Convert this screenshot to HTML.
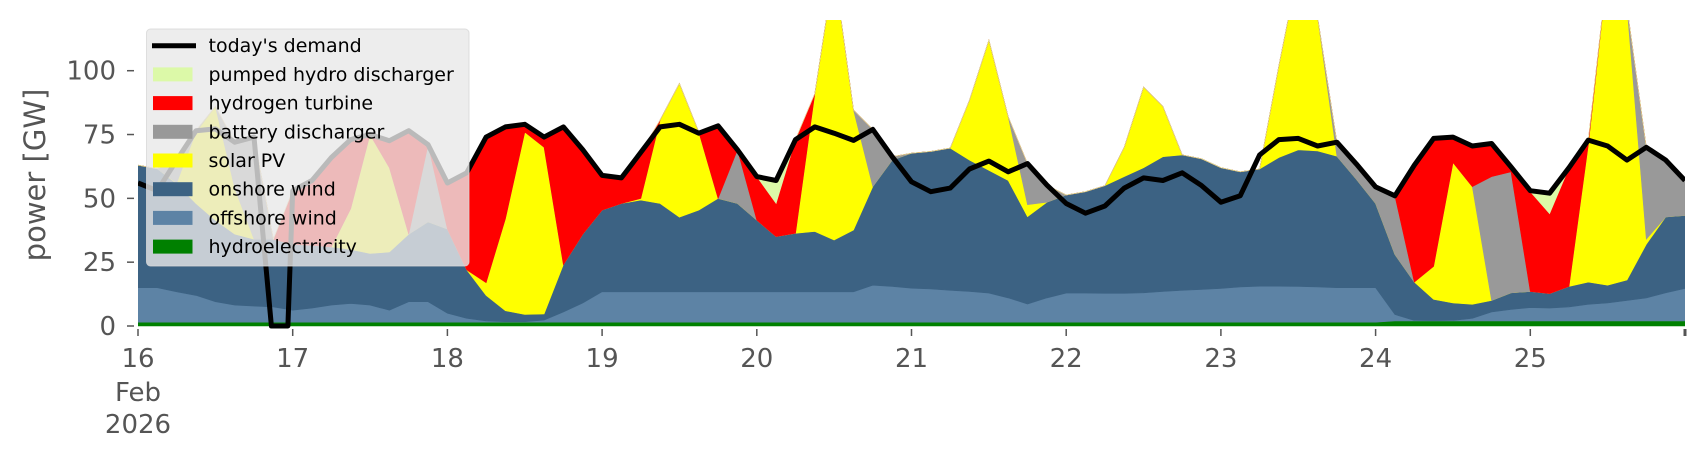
<!DOCTYPE html>
<html><head><meta charset="utf-8"><style>
html,body{margin:0;padding:0;background:#fff;}
svg{display:block;font-family:"DejaVu Sans","Liberation Sans",sans-serif;}
</style></head><body>
<svg id="chart" width="1706" height="460" viewBox="0 0 1706 460" xmlns="http://www.w3.org/2000/svg">
<defs><clipPath id="plotclip"><rect x="138" y="20" width="1547" height="320"/></clipPath></defs>
<g id="areas" clip-path="url(#plotclip)"></g>
<g id="demand" clip-path="url(#plotclip)"></g>
<g id="yaxis"></g>
<g id="xaxis"></g>
<text transform="translate(45,175) rotate(-90)" text-anchor="middle" font-size="29" fill="#555">power [GW]</text>
<g id="legend"></g>
</svg>
<script>
// 3-hourly samples, 16 Feb 00:00 .. 26 Feb 00:00 (81 points), GW
const days = ["16","17","18","19","20","21","22","23","24","25",""];
const yTicks = [0,25,50,75,100];
const hydro = [1.5,1.5,1.5,1.5,1.5,1.5,1.5,1.5, 1.5,1.5,1.5,1.5,1.5,1.5,1.5,1.5, 1.5,1.5,1.5,1.5,1.5,1.5,1.5,1.5, 1.5,1.5,1.5,1.5,1.5,1.5,1.5,1.5, 1.5,1.5,1.5,1.5,1.5,1.5,1.5,1.5, 1.5,1.5,1.5,1.5,1.5,1.5,1.5,1.5, 1.5,1.5,1.5,1.5,1.5,1.5,1.5,1.5, 1.5,1.5,1.5,1.5,1.5,1.5,1.5,1.5, 1.5,2,2,2,2,2,2,2, 2,2,2,2,2,2,2,2, 2];
const offshore = [13.5,13.5,11.9,10.5,8,6.7,6.3,6, 4.7,5.5,6.7,7.3,6.7,4.7,8,8, 3.5,1.5,0.5,0.2,0.2,0.8,4,7.5, 11.9,11.9,11.9,11.9,11.9,11.9,11.9,11.9, 11.9,11.9,11.9,11.9,11.9,11.9,14.5,14, 13.3,13,12.5,12,11.4,9.5,7.1,9.5, 11.4,11.4,11.3,11.3,11.5,12,12.5,12.8, 13.2,13.8,14.1,14.1,14,13.8,13.5,13.5, 13.5,2.5,0.2,0.1,0.2,1,3.5,4.5, 5.2,5,5.5,6.5,7,8,9,11, 12.7];
const onshore = [48,46.6,42.3,36,31.9,27.8,26.2,26.5, 25.8,24.6,22.8,21.2,20.2,22.8,26.5,31.3, 33,19,10,4.3,2.8,2.4,18.5,27, 32,34.6,35.9,34.6,29.2,32,36.6,34.6, 28.1,21.6,22.9,23.6,20.3,24.2,38.6,49.5, 52.9,53.9,55.7,51.5,48.1,46,34.2,37.5, 38.4,39.7,42.2,45.7,49,52.8,53,51.2, 47.3,45.1,45.9,50.4,53.5,53.3,51.5,42.5, 33,23.5,15,8.3,6.8,5.5,4.5,6.5, 6.3,5.7,8,8.7,7,8,21,29.7, 28.6];
const solar = [0,0,0.3,28,44.6,18,0,0, 0,0,0,16,46.6,33,0,0, 0,0,5,36,71.5,65.3,0,0, 0,0,0.7,32.7,52.4,30.6,0,0, 0,0,0,54,106.3,47,0,0, 0,0,0,23.5,51,25,4.7,0, 0,0,0,11.5,31.6,19.7,0,0, 0,0,0,36,71,52.4,0,0, 0,0,0,13,55,46.1,0,0, 0,0,0,53.8,124,107,2,0, 0];
const battery = [0,0,9,0.5,0,18,40,0, 0,0,0,0,0,0,0,30.2, 0,0,0,0,0,0,0,0, 0,0,0,0,0,0,0,21, 0,0,0,0,0,0,22.4,1.3, 0,0,0,0,0,0,16.1,6.7, 0,0,0,0,0,0,0,0, 0,0,0,0,0,0,5.5,6, 7,23,0,0,0,0,48.5,47.4, 0,0,0,0,0,0,36,22.3, 13.7];
const hydrogen = [0,0,0,0,0,0,0,0, 21,25.4,35,27,0,10.6,40.5,0, 18,38,57,36,3,4,54,33, 13.6,10,18,0,0,0,28.4,0, 17,13,36.7,0,0,0,0,0, 0,0,0,0,0,0,0,0, 0,0,0,0,0,0,0,0, 0,0,0,0,0,0,0,0, 0,0,46,50.5,10.2,15.9,13,1.9, 39.1,31.3,46.5,1.8,0,0,0,0, 0];
const pumped = [0,0,0,0,0,0,0,0, 0,0,0,0,0,0,0,0, 0,0,0,0,0,0,0,0, 0,0,0,0,0,0,0,0, 0,9,0,0,0,0,0,0, 0,0,0,0,0,0,0,0, 0,0,0,0,0,0,0,0, 0,0,0,0,0,0,0,0, 0,0,0,0,0,0,0,0, 0.4,8,0,0,0,0,0,0, 0];
const demand = [56,53,65,76.5,77.2,72,74,0, 53,57,66,73,75,72.6,76.5,71, 56,60,74,78,79,74,78,69, 59,58,68,78,79,75.5,78.4,69, 58.5,57,73,78,75.5,72.7,77,66.3, 56.5,52.6,54,61.5,64.6,60.4,63.6,55.2, 48,44.2,47,54,58,57,60,55, 48.5,51,67,73,73.5,70.5,72,63.5, 54.5,51,63,73.5,74,70.5,71.5,62.3, 53,52,62,72.8,70.5,65,70,65, 57];
// demand gap (zero readings) around 16 Feb 21:00-23:00
const demandGapStart = 6.9;
const demandGapEnd = 7.75;

const NS='http://www.w3.org/2000/svg';
const X0=138, X1=1685, Y0=326, PXG=2.553;
const N=demand.length;
function xs(i){return X0+(i/(N-1))*(X1-X0);}
function ys(v){return Y0-v*PXG;}
function mk(tag,attrs,parent){const e=document.createElementNS(NS,tag);for(const k in attrs)e.setAttribute(k,attrs[k]);parent.appendChild(e);return e;}

const series=[
 {name:'hydroelectricity',vals:hydro,color:'#008000',id:'area-hydroelectricity'},
 {name:'offshore wind',vals:offshore,color:'#5d83a5',id:'area-offshore-wind'},
 {name:'onshore wind',vals:onshore,color:'#3c6283',id:'area-onshore-wind'},
 {name:'solar PV',vals:solar,color:'#ffff00',id:'area-solar-pv'},
 {name:'battery discharger',vals:battery,color:'#999999',id:'area-battery-discharger'},
 {name:'hydrogen turbine',vals:hydrogen,color:'#ff0000',id:'area-hydrogen-turbine'},
 {name:'pumped hydro discharger',vals:pumped,color:'#dcf9a8',id:'area-pumped-hydro'}
];
const areas=document.getElementById('areas');
let base=new Array(N).fill(0);
series.forEach(s=>{
  const top=base.map((b,i)=>b+s.vals[i]);
  let d='M'+xs(0)+','+ys(top[0]);
  for(let i=1;i<N;i++) d+='L'+xs(i).toFixed(1)+','+ys(top[i]).toFixed(1);
  for(let i=N-1;i>=0;i--) d+='L'+xs(i).toFixed(1)+','+ys(base[i]).toFixed(1);
  d+='Z';
  const p=mk('path',{d:d,fill:s.color,stroke:s.color,'stroke-width':'0.6'},areas);
  
  
  base=top;
});
// demand line
const dg=document.getElementById('demand');
let dd='';
for(let i=0;i<N;i++){
  if(i===7){
    dd+='L'+xs(demandGapStart).toFixed(1)+','+ys(0).toFixed(1)+'L'+xs(demandGapEnd).toFixed(1)+','+ys(0).toFixed(1);
    continue;
  }
  dd+=(i?'L':'M')+xs(i).toFixed(1)+','+ys(demand[i]).toFixed(1);
}
const dl=mk('path',{d:dd,fill:'none',stroke:'#000','stroke-width':'5','stroke-linejoin':'round'},dg);



// y axis
const ya=document.getElementById('yaxis');
yTicks.forEach(v=>{
  const y=ys(v);
  const t=mk('line',{x1:127,x2:134,y1:y,y2:y,stroke:'#555','stroke-width':'1.5'},ya);
  
  
  const l=mk('text',{x:116,y:y+9,'text-anchor':'end','font-size':'26',fill:'#555'},ya);
  l.textContent=String(v);
  
  
});
// x axis
const xa=document.getElementById('xaxis');
days.forEach((dname,k)=>{
  const x=X0+k*(X1-X0)/10;
  const t=mk('line',{x1:x,x2:x,y1:329,y2:336,stroke:'#555','stroke-width':k==10?'3':'1.5'},xa);
  
  
  if(dname){
    const l=mk('text',{x:x,y:367,'text-anchor':'middle','font-size':'26',fill:'#555'},xa);
    l.textContent=dname;
    
    
  }
});
const fe=mk('text',{x:X0,y:401,'text-anchor':'middle','font-size':'26',fill:'#555'},xa);
fe.textContent='Feb';


const yr=mk('text',{x:X0,y:433,'text-anchor':'middle','font-size':'26',fill:'#555'},xa);
yr.textContent='2026';



// legend
const lg=document.getElementById('legend');
const box=mk('rect',{x:146.5,y:29,width:322.5,height:237,rx:4,fill:'rgba(232,232,232,0.8)',stroke:'rgba(215,215,215,0.8)','stroke-width':'1'},lg);


const entries=[['today\'s demand','line','#000'],['pumped hydro discharger','rect','#dcf9a8'],['hydrogen turbine','rect','#ff0000'],['battery discharger','rect','#999999'],['solar PV','rect','#ffff00'],['onshore wind','rect','#3c6283'],['offshore wind','rect','#5d83a5'],['hydroelectricity','rect','#008000']];
entries.forEach((e,k)=>{
  const cy=45.7+k*28.7;
  const g=mk('g',{},lg);
  
  
  if(e[1]=='line') mk('line',{x1:152,x2:196,y1:cy,y2:cy,stroke:'#000','stroke-width':'5'},g);
  else mk('rect',{x:153,y:cy-7,width:39.5,height:14,fill:e[2]},g);
  const t=mk('text',{x:208.5,y:cy+6.5,'font-size':'19',fill:'#000'},g);
  t.textContent=e[0];
});
</script>
</body></html>
